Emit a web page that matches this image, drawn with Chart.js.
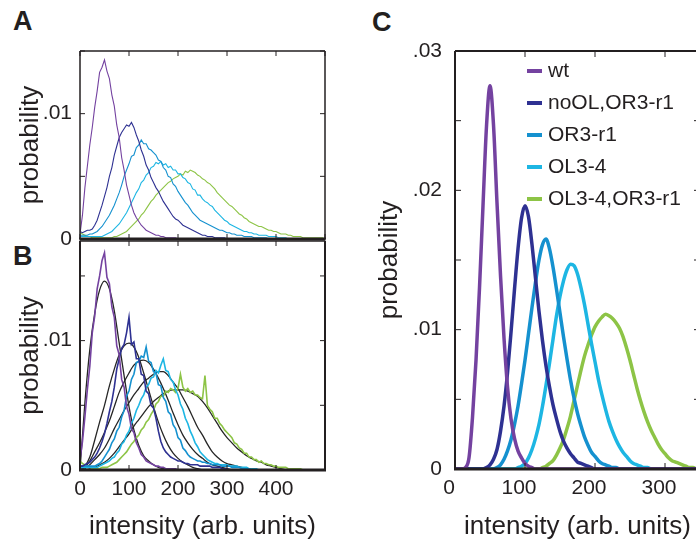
<!DOCTYPE html>
<html>
<head>
<meta charset="utf-8">
<script src="https://cdn.jsdelivr.net/npm/chart.js"></script>
<style>
  html, body { margin: 0; padding: 0; width: 696px; height: 542px; overflow: hidden; background: #fff; }
  canvas { position: absolute; }
  .panel { position: absolute; font: bold 27px "Liberation Sans", Arial, sans-serif; line-height: 27px; color: #231f20; }
</style>
</head>
<body>
<div class="panel" style="left:13px;top:8px">A</div>
<div class="panel" style="left:13px;top:243px">B</div>
<div class="panel" style="left:372px;top:9px">C</div>
<canvas id="chartA" width="340" height="250" style="left:0;top:0"></canvas>
<canvas id="chartB" width="340" height="302" style="left:0;top:240px"></canvas>
<canvas id="chartC" width="350" height="542" style="left:360px;top:0"></canvas>
<script>
const FONT = '"Liberation Sans", Arial, Helvetica, sans-serif';
const TEXT = '#231f20';

// series names and colours
const seriesNames = ['wt', 'noOL,OR3-r1', 'OR3-r1', 'OL3-4', 'OL3-4,OR3-r1'];
const seriesColors = ['#7442a0', '#2e3192', '#1591cf', '#1db6e3', '#8dc446'];
const fitColor = '#262626';

// intensity bins (arb. units)
const bins = [0,5,10,15,20,25,30,35,40,45,
  50,55,60,65,70,75,80,85,90,95,
  100,105,110,115,120,125,130,135,140,145,
  150,155,160,165,170,175,180,185,190,195,
  200,205,210,215,220,225,230,235,240,245,
  250,255,260,265,270,275,280,285,290,295,
  300,305,310,315,320,325,330,335,340,345,
  350,355,360,365,370,375,380,385,390,395,
  400,405,410,415,420,425,430,435,440,445,
  450,455,460,465,470,475,480,485,490,495,500];
const fitBins = [0,10,20,30,40,50,60,70,80,90,100,110,120,130,140,150,160,170,180,190,
  200,210,220,230,240,250,260,270,280,290,300,310,320,330,340,350,360,370,380,390,400,410,420,430,440,450];
const curveBins = [0,5,10,15,20,25,30,35,40,45,
  50,55,60,65,70,75,80,85,90,95,
  100,105,110,115,120,125,130,135,140,145,
  150,155,160,165,170,175,180,185,190,195,
  200,205,210,215,220,225,230,235,240,245,
  250,255,260,265,270,275,280,285,290,295,
  300,305,310,315,320,325,330,335,340,345,350];

// panel A: measured histograms
const histA_wt = [0.0004,0.0019,0.0041,0.0058,0.0075,0.0089,0.0105,0.0118,0.0133,0.0137,
  0.0143,0.0134,0.0128,0.0115,0.0106,0.0091,0.0081,0.0065,0.0055,0.0043,
  0.0035,0.0027,0.0021,0.0017,0.0014,0.0011,0.0009,0.0007,0.0006,0.0005,
  0.0004,0.0003,0.0003,0.0002,0.0002,0.0001,0.0001,0.0001,0.0001,0.0001,0];
const histA_noOL = [0.0006,0.0005,0.0006,0.0007,0.0007,0.0008,0.0011,0.0015,0.0021,0.0027,
  0.0034,0.0041,0.0050,0.0057,0.0067,0.0074,0.0081,0.0085,0.0088,0.0091,
  0.0090,0.0093,0.0089,0.0083,0.0078,0.0071,0.0066,0.0059,0.0055,0.0049,
  0.0045,0.0041,0.0038,0.0034,0.0030,0.0027,0.0024,0.0021,0.0018,0.0016,
  0.0015,0.0013,0.0011,0.0010,0.0009,0.0008,0.0007,0.0006,0.0005,0.0004,
  0.0003,0.0003,0.0002,0.0002,0.0002,0.0001,0.0001,0.0001,0.0001,0.0001,0];
const histA_or3 = [0.0003,0.0003,0.0003,0.0003,0.0004,0.0004,0.0005,0.0006,0.0008,0.0010,
  0.0013,0.0016,0.0019,0.0023,0.0027,0.0032,0.0037,0.0043,0.0050,0.0055,
  0.0060,0.0066,0.0067,0.0073,0.0075,0.0079,0.0076,0.0076,0.0072,0.0071,
  0.0069,0.0067,0.0063,0.0062,0.0057,0.0055,0.0050,0.0049,0.0044,0.0042,
  0.0038,0.0035,0.0032,0.0029,0.0027,0.0024,0.0021,0.0019,0.0017,0.0015,
  0.0014,0.0013,0.0012,0.0011,0.0010,0.0009,0.0008,0.0007,0.0007,0.0006,
  0.0005,0.0005,0.0004,0.0004,0.0003,0.0003,0.0003,0.0002,0.0002,0.0002,
  0.0002,0.0001,0.0001,0.0001,0.0001,0.0001,0.0001,0];
const histA_ol34 = [0.0002,0.0002,0.0002,0.0002,0.0002,0.0002,0.0002,0.0002,0.0002,0.0002,
  0.0003,0.0004,0.0005,0.0006,0.0008,0.0010,0.0012,0.0015,0.0018,0.0021,
  0.0025,0.0029,0.0033,0.0037,0.0040,0.0045,0.0047,0.0051,0.0053,0.0057,
  0.0058,0.0061,0.0060,0.0062,0.0059,0.0060,0.0057,0.0058,0.0055,0.0055,
  0.0052,0.0052,0.0049,0.0048,0.0045,0.0044,0.0040,0.0039,0.0035,0.0035,
  0.0032,0.0030,0.0029,0.0027,0.0026,0.0023,0.0021,0.0019,0.0017,0.0015,
  0.0014,0.0012,0.0011,0.0010,0.0009,0.0008,0.0007,0.0006,0.0006,0.0005,
  0.0005,0.0004,0.0004,0.0003,0.0003,0.0003,0.0003,0.0002,0.0002,0.0002,
  0.0002,0.0001,0.0001,0.0001,0.0001,0];
const histA_green = [0.0005,0.0004,0.0003,0.0002,0.0002,0.0001,0.0001,0.0001,0.0001,0.0001,
  0.0001,0.0001,0.0001,0.0001,0.0002,0.0002,0.0003,0.0004,0.0005,0.0006,
  0.0008,0.0010,0.0012,0.0014,0.0016,0.0019,0.0021,0.0024,0.0027,0.0030,
  0.0032,0.0035,0.0037,0.0039,0.0041,0.0043,0.0045,0.0046,0.0048,0.0049,
  0.0050,0.0052,0.0051,0.0054,0.0053,0.0055,0.0054,0.0053,0.0051,0.0050,
  0.0048,0.0047,0.0045,0.0044,0.0042,0.0040,0.0037,0.0035,0.0033,0.0031,
  0.0029,0.0027,0.0026,0.0024,0.0022,0.0020,0.0019,0.0017,0.0016,0.0014,
  0.0013,0.0012,0.0011,0.0010,0.0010,0.0009,0.0008,0.0007,0.0007,0.0006,
  0.0006,0.0005,0.0004,0.0004,0.0004,0.0003,0.0003,0.0002,0.0002,0.0002,
  0.0002,0.0001,0.0001,0.0001,0.0001,0.0001,0.0001,0.0001,0.0001,0.0001,0];

// panel B: measured histograms
const histB_wt = [0.0008,0.0022,0.0041,0.0062,0.0080,0.0106,0.0119,0.0140,0.0150,0.0162,
  0.0168,0.0149,0.0144,0.0126,0.0118,0.0096,0.0089,0.0070,0.0064,0.0049,
  0.0043,0.0032,0.0029,0.0021,0.0017,0.0012,0.0010,0.0007,0.0006,0.0005,
  0.0004,0.0003,0.0003,0.0002,0.0002,0.0001,0.0001,0.0001,0.0001,0.0001,0];
const histB_noOL = [0.0003,0.0003,0.0004,0.0005,0.0006,0.0008,0.0010,0.0013,0.0017,0.0022,
  0.0028,0.0036,0.0045,0.0053,0.0064,0.0078,0.0086,0.0094,0.0097,0.0106,
  0.0118,0.0097,0.0099,0.0086,0.0086,0.0074,0.0073,0.0061,0.0059,0.0050,
  0.0048,0.0040,0.0030,0.0022,0.0017,0.0014,0.0012,0.0010,0.0009,0.0008,
  0.0007,0.0007,0.0006,0.0005,0.0005,0.0004,0.0004,0.0004,0.0004,0.0003,
  0.0003,0.0003,0.0003,0.0003,0.0002,0.0002,0.0002,0.0002,0.0001,0.0001,0.0001,0];
const histB_or3 = [0.0003,0.0003,0.0003,0.0003,0.0003,0.0003,0.0003,0.0004,0.0005,0.0007,
  0.0010,0.0013,0.0016,0.0021,0.0024,0.0030,0.0033,0.0041,0.0046,0.0057,
  0.0061,0.0070,0.0074,0.0083,0.0084,0.0088,0.0087,0.0095,0.0084,0.0083,
  0.0076,0.0075,0.0066,0.0065,0.0056,0.0053,0.0045,0.0043,0.0035,0.0032,
  0.0025,0.0023,0.0017,0.0015,0.0012,0.0010,0.0009,0.0008,0.0007,0.0007,
  0.0006,0.0006,0.0005,0.0005,0.0004,0.0004,0.0004,0.0004,0.0003,0.0003,
  0.0003,0.0003,0.0002,0.0002,0.0002,0.0002,0.0001,0.0001,0.0001,0.0001,0];
const histB_ol34 = [0.0002,0.0002,0.0002,0.0002,0.0002,0.0002,0.0002,0.0002,0.0003,0.0004,
  0.0005,0.0006,0.0007,0.0009,0.0010,0.0013,0.0015,0.0020,0.0022,0.0027,
  0.0030,0.0036,0.0040,0.0046,0.0050,0.0055,0.0058,0.0064,0.0066,0.0071,
  0.0072,0.0077,0.0075,0.0081,0.0086,0.0077,0.0076,0.0070,0.0068,0.0062,
  0.0058,0.0051,0.0047,0.0040,0.0036,0.0030,0.0026,0.0021,0.0018,0.0014,
  0.0012,0.0010,0.0008,0.0007,0.0006,0.0005,0.0005,0.0004,0.0004,0.0004,
  0.0004,0.0003,0.0003,0.0003,0.0003,0.0002,0.0002,0.0002,0.0002,0.0001,
  0.0001,0.0001,0.0001,0];
const histB_green = [0.0007,0.0005,0.0004,0.0002,0.0002,0.0001,0.0001,0.0001,0.0001,0.0002,
  0.0002,0.0002,0.0003,0.0004,0.0005,0.0006,0.0008,0.0010,0.0012,0.0014,
  0.0017,0.0020,0.0022,0.0025,0.0027,0.0031,0.0033,0.0037,0.0039,0.0043,
  0.0046,0.0051,0.0053,0.0057,0.0057,0.0061,0.0060,0.0063,0.0062,0.0060,
  0.0063,0.0074,0.0064,0.0061,0.0063,0.0060,0.0061,0.0058,0.0058,0.0056,
  0.0055,0.0073,0.0050,0.0047,0.0045,0.0040,0.0040,0.0036,0.0034,0.0031,
  0.0029,0.0027,0.0025,0.0021,0.0020,0.0017,0.0016,0.0013,0.0013,0.0010,
  0.0010,0.0008,0.0008,0.0006,0.0007,0.0005,0.0005,0.0004,0.0004,0.0003,
  0.0003,0.0002,0.0002,0.0002,0.0002,0.0001,0.0001,0.0001,0.0001,0.0001,0.0001,0];

// panel B: fitted distributions (black)
const fitB_wt = [0,0.0052,0.0093,0.0121,0.0139,0.0146,0.0140,0.0123,0.0098,0.0073,
  0.0049,0.0031,0.0019,0.0011,0.0007,0.0004,0.0002,0.0001,0];
const fitB_noOL = [0,0.0003,0.0010,0.0023,0.0037,0.0050,0.0065,0.0078,0.0089,0.0096,
  0.0098,0.0095,0.0087,0.0075,0.0062,0.0049,0.0037,0.0027,0.0019,0.0013,
  0.0009,0.0006,0.0004,0.0002,0.0001,0];
const fitB_or3 = [0,0.0002,0.0007,0.0014,0.0021,0.0029,0.0038,0.0049,0.0060,0.0068,
  0.0075,0.0081,0.0084,0.0085,0.0083,0.0078,0.0071,0.0063,0.0054,0.0044,
  0.0035,0.0027,0.0021,0.0016,0.0012,0.0009,0.0006,0.0004,0.0003,0.0002,0.0001,0];
const fitB_ol34 = [0,0.0001,0.0004,0.0008,0.0012,0.0017,0.0024,0.0032,0.0039,0.0046,
  0.0052,0.0058,0.0063,0.0068,0.0071,0.0074,0.0076,0.0076,0.0073,0.0068,
  0.0063,0.0056,0.0049,0.0041,0.0033,0.0027,0.0020,0.0014,0.0010,0.0007,
  0.0005,0.0004,0.0003,0.0002,0.0001,0];
const fitB_green = [0,0,0.0001,0.0002,0.0004,0.0006,0.0009,0.0013,0.0018,0.0023,
  0.0028,0.0034,0.0039,0.0044,0.0049,0.0053,0.0056,0.0059,0.0061,0.0062,
  0.0062,0.0062,0.0061,0.0059,0.0057,0.0053,0.0048,0.0042,0.0036,0.0030,
  0.0025,0.0021,0.0017,0.0014,0.0011,0.0009,0.0007,0.0006,0.0004,0.0003,
  0.0002,0.0001,0];

// panel C: model distributions
const curveC_wt = [0,0,0,0.0001,0.0008,0.0037,0.0078,0.0130,0.0189,0.0246,
  0.0275,0.0247,0.0191,0.0139,0.0094,0.0059,0.0036,0.0022,0.0013,0.0008,
  0.0004,0.0002,0.0001,0,0,0,0,0,0,0,
  0,0,0,0,0,0,0,0,0,0,
  0,0,0,0,0,0,0,0,0,0,
  0,0,0,0,0,0,0,0,0,0,
  0,0,0,0,0,0,0,0,0,0,0];
const curveC_noOL = [0,0,0,0,0,0,0,0,0,0.0001,
  0.0003,0.0007,0.0014,0.0027,0.0045,0.0069,0.0098,0.0129,0.0158,0.0180,
  0.0189,0.0181,0.0161,0.0137,0.0113,0.0092,0.0074,0.0059,0.0046,0.0036,
  0.0027,0.0020,0.0015,0.0011,0.0008,0.0005,0.0004,0.0003,0.0002,0.0001,
  0,0,0,0,0,0,0,0,0,0,
  0,0,0,0,0,0,0,0,0,0,
  0,0,0,0,0,0,0,0,0,0,0];
const curveC_or3 = [0,0,0,0,0,0,0,0,0,0,
  0,0,0.0001,0.0003,0.0007,0.0013,0.0021,0.0032,0.0045,0.0061,
  0.0078,0.0097,0.0116,0.0134,0.0150,0.0161,0.0165,0.0158,0.0145,0.0129,
  0.0112,0.0095,0.0079,0.0064,0.0051,0.0040,0.0031,0.0023,0.0017,0.0012,
  0.0009,0.0006,0.0004,0.0003,0.0002,0.0001,0.0001,0,0,0,
  0,0,0,0,0,0,0,0,0,0,
  0,0,0,0,0,0,0,0,0,0,0];
const curveC_ol34 = [0,0,0,0,0,0,0,0,0,0,
  0,0,0,0,0,0,0,0,0.0001,0.0002,
  0.0004,0.0008,0.0014,0.0022,0.0032,0.0045,0.0060,0.0076,0.0093,0.0110,
  0.0124,0.0135,0.0143,0.0147,0.0146,0.0140,0.0130,0.0118,0.0104,0.0090,
  0.0077,0.0064,0.0053,0.0043,0.0034,0.0027,0.0021,0.0016,0.0012,0.0009,
  0.0006,0.0004,0.0003,0.0002,0.0001,0.0001,0,0,0,0,
  0,0,0,0,0,0,0,0,0,0,0];
const curveC_green = [0,0,0,0,0,0,0,0,0,0,
  0,0,0,0,0,0,0,0,0,0,
  0,0,0,0,0,0.0001,0.0002,0.0004,0.0006,0.0010,
  0.0015,0.0021,0.0029,0.0038,0.0049,0.0060,0.0071,0.0081,0.0089,0.0096,
  0.0102,0.0106,0.0109,0.0111,0.0110,0.0108,0.0105,0.0101,0.0095,0.0087,
  0.0078,0.0068,0.0058,0.0049,0.0041,0.0034,0.0028,0.0023,0.0018,0.0014,
  0.0011,0.0008,0.0006,0.0005,0.0004,0.0003,0.0002,0.0001,0.0001,0,0];

const histA = [histA_wt, histA_noOL, histA_or3, histA_ol34, histA_green];
const histB = [histB_wt, histB_noOL, histB_or3, histB_ol34, histB_green];
const fitsB = [fitB_wt, fitB_noOL, fitB_or3, fitB_ol34, fitB_green];
const curvesC = [curveC_wt, curveC_noOL, curveC_or3, curveC_ol34, curveC_green];

function toPoints(xs, ys) {
  return ys.map((y, i) => ({ x: xs[i], y }));
}

// "0", ".01", ".02" ... only on whole hundredths
function probTick(v) {
  if (Math.abs(v) < 1e-9) return '0';
  const h = Math.round(v * 100);
  return Math.abs(v * 100 - h) < 1e-6 ? '.0' + h : '';
}

// fixed axis sizes, and no extra room for labels hanging over the ends
function pinSize(prop, size) {
  return s => {
    s[prop] = size;
    s.paddingTop = 0; s.paddingBottom = 0; s.paddingLeft = 0; s.paddingRight = 0;
  };
}

// box round the plot with inward tick marks
const frame = {
  id: 'frame',
  afterDatasetsDraw(chart, args, o) {
    const { ctx, chartArea: a } = chart;
    const { x, y } = chart.scales;
    ctx.save();
    ctx.strokeStyle = TEXT;
    ctx.lineWidth = 1;
    ctx.beginPath();
    x.ticks.forEach(t => {
      const px = x.getPixelForValue(t.value);
      ctx.moveTo(px, a.top); ctx.lineTo(px, a.top + o.tick);
      ctx.moveTo(px, a.bottom); ctx.lineTo(px, a.bottom - o.tick);
    });
    y.ticks.forEach(t => {
      const py = y.getPixelForValue(t.value);
      ctx.moveTo(a.left, py); ctx.lineTo(a.left + o.tick, py);
      ctx.moveTo(a.right, py); ctx.lineTo(a.right - o.tick, py);
    });
    ctx.stroke();
    const edge = (w, x1, y1, x2, y2) => {
      ctx.lineWidth = w;
      ctx.beginPath(); ctx.moveTo(x1, y1); ctx.lineTo(x2, y2); ctx.stroke();
    };
    edge(o.top, a.left, a.top, a.right, a.top);
    edge(o.right, a.right, a.top, a.right, a.bottom);
    edge(o.left, a.left, a.top, a.left, a.bottom);
    edge(o.bottom, a.left - o.left / 2, a.bottom, a.right + o.right / 2, a.bottom);
    ctx.restore();
  }
};

// legend drawn inside the plot area of panel C
const insideLegend = {
  id: 'insideLegend',
  afterDraw(chart, args, o) {
    const { ctx } = chart;
    ctx.save();
    ctx.font = o.size + 'px ' + FONT;
    ctx.textBaseline = 'middle';
    ctx.fillStyle = TEXT;
    chart.data.datasets.forEach((ds, i) => {
      const yy = o.top + i * o.step;
      ctx.strokeStyle = ds.borderColor;
      ctx.lineWidth = 4;
      ctx.beginPath(); ctx.moveTo(o.left, yy); ctx.lineTo(o.left + o.line, yy); ctx.stroke();
      ctx.fillText(ds.label, o.left + o.line + 6, yy);
    });
    ctx.restore();
  }
};

function yAxis(max, width, labelPad, titlePad) {
  return {
    type: 'linear', min: 0, max,
    grid: { display: false, drawTicks: false },
    border: { display: false },
    ticks: { stepSize: 0.005, includeBounds: false, autoSkip: false, padding: labelPad,
      color: TEXT, font: { family: FONT, size: 21 }, callback: probTick },
    title: { display: true, text: 'probability', color: TEXT,
      font: { family: FONT, size: 26 }, padding: { top: titlePad, bottom: 0 } },
    afterFit: pinSize('width', width)
  };
}

function xAxis(max, height, showLabels, lastLabel, labelOffset) {
  return {
    type: 'linear', min: 0, max,
    grid: { display: false, drawTicks: false },
    border: { display: false },
    ticks: { stepSize: 100, includeBounds: false, autoSkip: false, display: showLabels,
      padding: 7, labelOffset, maxRotation: 0,
      color: TEXT, font: { family: FONT, size: 21 },
      callback: v => (v <= lastLabel ? String(v) : '') },
    title: { display: showLabels, text: 'intensity (arb. units)', color: TEXT,
      font: { family: FONT, size: 26 }, padding: { top: 0, bottom: 0 } },
    afterFit: pinSize('height', height)
  };
}

const baseOptions = {
  responsive: false,
  animation: false,
  events: [],
  plugins: { legend: { display: false }, tooltip: { enabled: false } }
};

// Panel A
new Chart(document.getElementById('chartA'), {
  type: 'line',
  data: {
    datasets: histA.map((vals, i) => ({
      label: seriesNames[i], data: toPoints(bins, vals),
      borderColor: seriesColors[i], borderWidth: 1.1, pointRadius: 0, tension: 0
    }))
  },
  options: {
    ...baseOptions,
    layout: { padding: { top: 51, right: 15, left: 0, bottom: 0 } },
    plugins: { ...baseOptions.plugins, frame: { tick: 5, top: 1.5, right: 1.5, left: 1.5, bottom: 3 } },
    scales: { x: xAxis(500, 11, false, 400, 0), y: yAxis(0.015, 80, 8, 15) }
  },
  plugins: [frame]
});

// Panel B
new Chart(document.getElementById('chartB'), {
  type: 'line',
  data: {
    datasets: histB.map((vals, i) => ({
      label: seriesNames[i], data: toPoints(bins, vals),
      borderColor: seriesColors[i], borderWidth: 1.6, pointRadius: 0, tension: 0
    })).concat(fitsB.map((vals, i) => ({
      label: seriesNames[i] + ' fit', data: toPoints(fitBins, vals),
      borderColor: fitColor, borderWidth: 1.3, pointRadius: 0, cubicInterpolationMode: 'monotone'
    })))
  },
  options: {
    ...baseOptions,
    layout: { padding: { top: 1, right: 15, left: 0, bottom: 0 } },
    plugins: { ...baseOptions.plugins, frame: { tick: 5, top: 1.5, right: 2, left: 2, bottom: 3 } },
    scales: { x: xAxis(500, 72, true, 400, 0), y: yAxis(0.0177, 80, 8, 15) }
  },
  plugins: [frame]
});

// Panel C
new Chart(document.getElementById('chartC'), {
  type: 'line',
  data: {
    datasets: curvesC.map((vals, i) => ({
      label: seriesNames[i], data: toPoints(curveBins, vals),
      borderColor: seriesColors[i], borderWidth: 3.5, pointRadius: 0, cubicInterpolationMode: 'monotone'
    }))
  },
  options: {
    ...baseOptions,
    layout: { padding: { top: 51, right: 10, left: 0, bottom: 0 } },
    plugins: {
      ...baseOptions.plugins,
      frame: { tick: 6, top: 2, right: 2, left: 2, bottom: 3 },
      insideLegend: { left: 167, top: 71, step: 32, line: 15, size: 21 }
    },
    scales: { x: xAxis(350, 73, true, 300, -6), y: yAxis(0.03, 95, 13, 14) }
  },
  plugins: [frame, insideLegend]
});
</script>
</body>
</html>
